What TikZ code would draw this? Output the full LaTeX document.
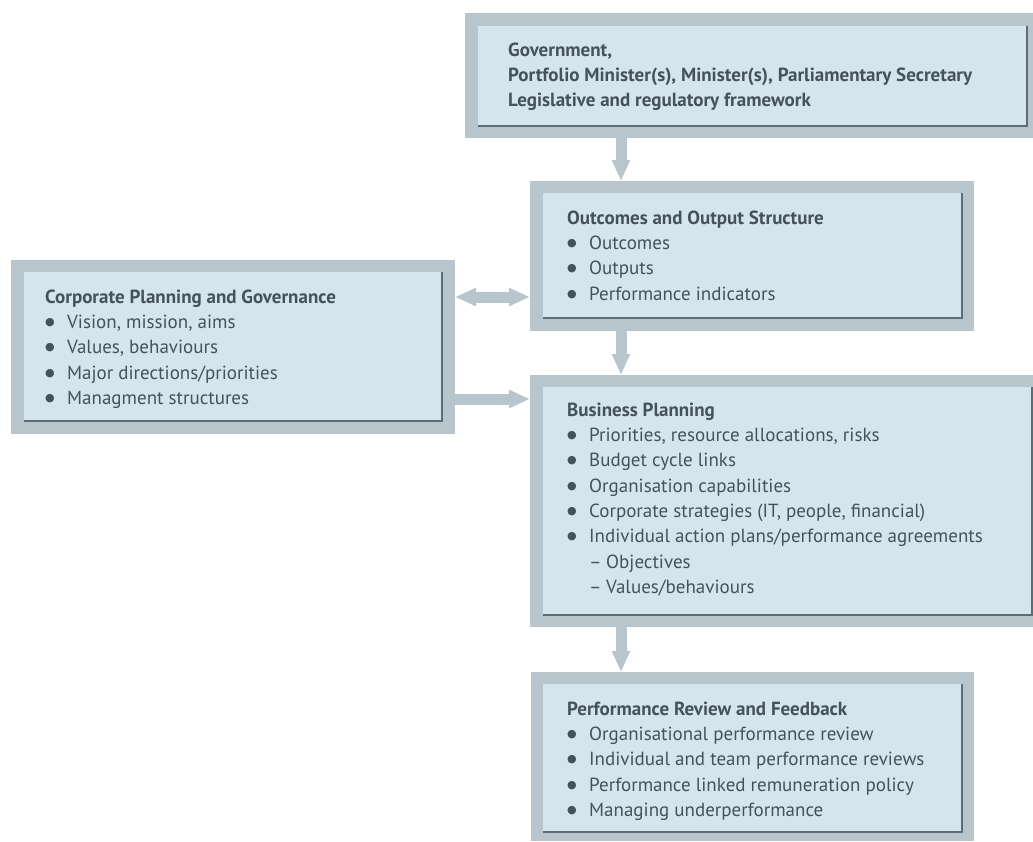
\documentclass[tikz,border=0pt]{standalone}
\usepackage{fontspec}
\setmainfont{PT Sans}
\newfontfamily\dotfont{DejaVu Sans}
\usepackage{tikz}
\usetikzlibrary{arrows.meta,calc}
\definecolor{framegray}{HTML}{B8C5CD}
\definecolor{panelblue}{HTML}{D5E5EE}
\definecolor{edgegray}{HTML}{5E6D75}
\definecolor{inkgray}{HTML}{46525A}
\newcommand{\bul}{\makebox[22pt][l]{\raisebox{3pt}{\dotfont\fontsize{11}{12}\selectfont ●}}}
\newcommand{\subitm}{\hspace*{22pt}\makebox[17pt][l]{–}}

\begin{document}
\begin{tikzpicture}[x=1pt,y=-1pt,
    outerbox/.style={fill=framegray, inner sep=0pt, outer sep=0pt, anchor=north west},
    innerbox/.style={fill=panelblue, inner sep=0pt, outer sep=0pt, anchor=north west},
    edge/.style={draw=edgegray, line width=1.5pt},
    txt/.style={text=inkgray, font=\fontsize{19}{25.3}\selectfont, align=left,
                anchor=north west, inner sep=0pt},
    flow/.style={draw=framegray, line width=11pt,
                 -{Triangle[length=21pt,width=17pt]}}]
  \useasboundingbox (0,0) rectangle (1033,841);

  % frames
  \node[outerbox, minimum width=568pt, minimum height=125pt] (gov)  at (465,13)  {};
  \node[outerbox, minimum width=444pt, minimum height=174pt] (corp) at (11,260)  {};
  \node[outerbox, minimum width=444pt, minimum height=150pt] (out)  at (530,181) {};
  \node[outerbox, minimum width=503pt, minimum height=252pt] (bus)  at (530,375) {};
  \node[outerbox, minimum width=443pt, minimum height=169pt] (perf) at (531,672) {};

  % panels
  \node[innerbox, minimum width=549pt, minimum height=100pt] (govin)  at (478,26)  {};
  \node[innerbox, minimum width=418pt, minimum height=149pt] (corpin) at (24,272)  {};
  \node[innerbox, minimum width=419pt, minimum height=125pt] (outin)  at (543,193) {};
  \node[innerbox, minimum width=489pt, minimum height=228pt] (busin)  at (543,387) {};
  \node[innerbox, minimum width=419pt, minimum height=148pt] (perfin) at (543,684) {};
  \foreach \p in {govin,corpin,outin,busin,perfin}
    \draw[edge] (\p.north east) -- (\p.south east) -- (\p.south west);

  % texts
  \node[txt] (govtxt) at (508,38.3) {\bfseries\strut Government,\\
    \bfseries Portfolio Minister(s), Minister(s), Parliamentary Secretary\\
    \bfseries Legislative and regulatory framework};
  \node[txt] (corptxt) at (45,285.3) {\bfseries\strut Corporate Planning and Governance\\
    \bul Vision, mission, aims\\
    \bul Values, behaviours\\
    \bul Major directions/priorities\\
    \bul Managment structures};
  \node[txt] (outtxt) at (567,206.3) {\bfseries\strut Outcomes and Output Structure\\
    \bul Outcomes\\
    \bul Outputs\\
    \bul Performance indicators};
  \node[txt] (bustxt) at (567,398.3) {\bfseries\strut Business Planning\\
    \bul Priorities, resource allocations, risks\\
    \bul Budget cycle links\\
    \bul Organisation capabilities\\
    \bul Corporate strategies (IT, people, financial)\\
    \bul Individual action plans/performance agreements\\
    \subitm Objectives\\
    \subitm Values/behaviours};
  \node[txt] (perftxt) at (567,697.3) {\bfseries\strut Performance Review and Feedback\\
    \bul Organisational performance review\\
    \bul Individual and team performance reviews\\
    \bul Performance linked remuneration policy\\
    \bul Managing underperformance};

  % connectors
  \draw[flow] ([xshift=91pt]out.north west |- gov.south) -- ([xshift=91pt]out.north west);
  \draw[flow] ([xshift=91pt]out.south west) -- ([xshift=91pt]bus.north west);
  \draw[flow] ([xshift=91pt]bus.south west) -- ([xshift=91pt]bus.south west |- perf.north);
  \draw[flow, {Triangle[length=21pt,width=17pt]}-{Triangle[length=21pt,width=17pt]}]
    (corp.east |- 0,297) -- (out.west |- 0,297);
  \draw[flow] (corp.east |- 0,399) -- (bus.west |- 0,399);
\end{tikzpicture}
\end{document}
